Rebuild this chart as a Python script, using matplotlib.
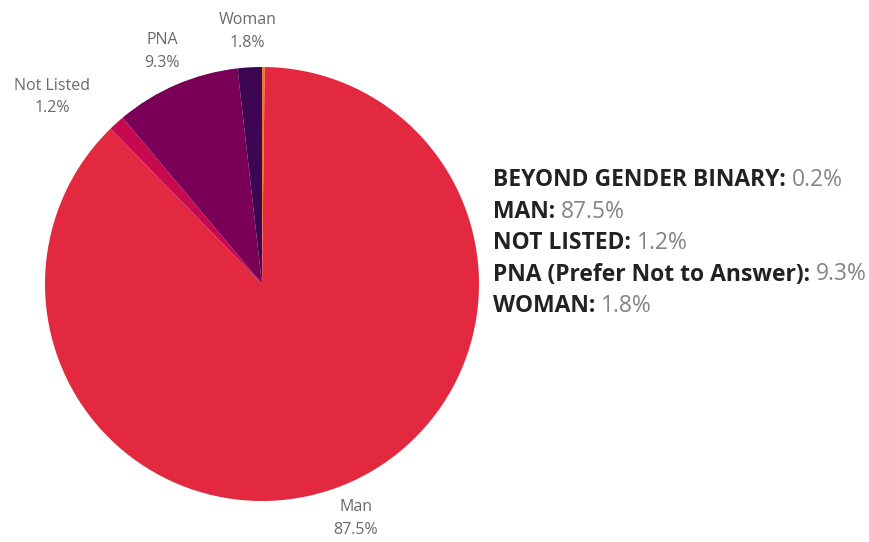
import numpy as np
import matplotlib
matplotlib.use('Agg')
import matplotlib.pyplot as plt

plt.rcParams['font.family'] = ['Open Sans', 'DejaVu Sans']

# data
labels = ['Beyond Gender Binary', 'Man', 'Not Listed', 'PNA', 'Woman']
legend_names = ['BEYOND GENDER BINARY', 'MAN', 'NOT LISTED', 'PNA (Prefer Not to Answer)', 'WOMAN']
values = [0.2, 87.5, 1.2, 9.3, 1.8]
colors = ['#F07A1A', '#E3293F', '#C70A50', '#7A0057', '#3E0652']

fig = plt.figure(figsize=(8.7, 5.42), dpi=100)
ax = fig.add_axes([45/870, 41/542, 434/870, 434/542])

wedges, texts = ax.pie(values, colors=colors, startangle=90, counterclock=False,
                       labels=[l + '\n' + str(v) + '%' for l, v in zip(labels, values)],
                       labeldistance=1.165, radius=1.0,
                       textprops=dict(color='#6a6a6a', fontsize=11.5, ha='center', va='center',
                                      linespacing=1.55))
ax.set_aspect('equal')
ax.set_xlim(-1, 1)
ax.set_ylim(-1, 1)

# the tiny slice has no label in the original
texts[0].set_visible(False)
# Not Listed label was pushed away from its slice
texts[2].set_position((-0.968, 0.862))

# legend-like text block on the right
y0 = 1 - 186/542
dy = 31.5/542
for i in range(len(values)):
    t = fig.text(493/870, y0 - i*dy, legend_names[i] + ': ', fontsize=16.5, fontweight='bold',
                 color='#222222', va='baseline', ha='left')
    ax.annotate(str(values[i]) + '%', xy=(1, 0), xycoords=t, va='bottom', ha='left',
                fontsize=16.5, color='#858585', annotation_clip=False)

fig.savefig('out.png', dpi=100)
